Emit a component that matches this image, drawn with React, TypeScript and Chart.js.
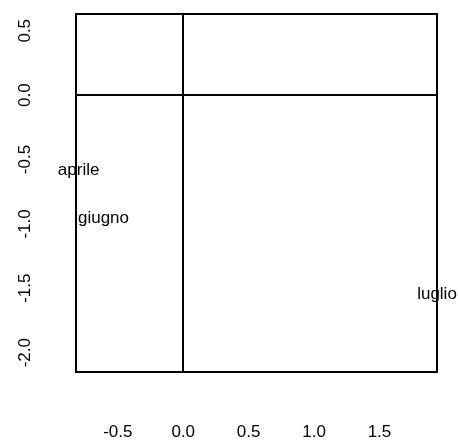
import React, { useEffect, useRef } from "react";
import { Chart, registerables } from "chart.js";

Chart.register(...registerables);

const pointLabels = ["aprile", "giugno", "luglio"];
const xValues = [-0.8, -0.61, 1.94];
const yValues = [-0.58, -0.96, -1.55];
const xTicks = [-0.5, 0.0, 0.5, 1.0, 1.5];
const yTicks = [-2.0, -1.5, -1.0, -0.5, 0.0, 0.5];

const FONT = "'Liberation Sans', Arial, Helvetica, sans-serif";

const boxPlugin = {
  id: "boxPlugin",
  afterDraw(chart: any) {
    const { ctx, chartArea } = chart;
    ctx.save();
    ctx.strokeStyle = "#000";
    ctx.lineWidth = 2;
    ctx.strokeRect(chartArea.left, chartArea.top, chartArea.right - chartArea.left, chartArea.bottom - chartArea.top);
    ctx.restore();
  },
};

const textPlugin = {
  id: "textPlugin",
  afterDatasetsDraw(chart: any) {
    const { ctx } = chart;
    const meta = chart.getDatasetMeta(0);
    ctx.save();
    ctx.fillStyle = "#000";
    ctx.font = `17px ${FONT}`;
    ctx.textAlign = "center";
    ctx.textBaseline = "middle";
    meta.data.forEach((el: any, i: number) => {
      ctx.fillText(pointLabels[i], el.x, el.y);
    });
    ctx.restore();
  },
};

export default function App() {
  const ref = useRef<HTMLCanvasElement | null>(null);
  useEffect(() => {
    if (!ref.current) return;
    const chart = new Chart(ref.current, {
      type: "scatter",
      data: {
        datasets: [
          {
            data: xValues.map((x, i) => ({ x, y: yValues[i] })),
            pointRadius: 0,
            pointHoverRadius: 0,
          },
        ],
      },
      options: {
        animation: false,
        responsive: false,
        maintainAspectRatio: false,
        events: [],
        layout: { padding: { top: 14, right: 21, left: 0, bottom: 0 } },
        plugins: { legend: { display: false }, tooltip: { enabled: false } },
        scales: {
          x: {
            type: "linear",
            min: -0.82,
            max: 1.94,
            afterBuildTicks: (s: any) => {
              s.ticks = xTicks.map((v) => ({ value: v }));
            },
            afterFit: (s: any) => {
              s.height = 69;
              s.paddingLeft = 0;
              s.paddingRight = 0;
            },
            border: { display: false },
            grid: {
              drawTicks: false,
              lineWidth: 2,
              color: (c: any) => (c.tick && c.tick.value === 0 ? "#000" : "rgba(0,0,0,0)"),
            },
            ticks: {
              color: "#000",
              font: { family: FONT, size: 17 },
              padding: 50,
              maxRotation: 0,
              callback: (v: any) => Number(v).toFixed(1),
            },
          },
          y: {
            type: "linear",
            min: -2.15,
            max: 0.63,
            afterBuildTicks: (s: any) => {
              s.ticks = yTicks.map((v) => ({ value: v }));
            },
            afterFit: (s: any) => {
              s.width = 76;
              s.paddingTop = 0;
              s.paddingBottom = 0;
            },
            border: { display: false },
            grid: {
              drawTicks: false,
              lineWidth: 2,
              color: (c: any) => (c.tick && c.tick.value === 0 ? "#000" : "rgba(0,0,0,0)"),
            },
            ticks: {
              color: "#000",
              font: { family: FONT, size: 17 },
              padding: 36,
              minRotation: 90,
              maxRotation: 90,
              crossAlign: "center",
              callback: (v: any) => Number(v).toFixed(1),
            },
          },
        },
      },
      plugins: [boxPlugin, textPlugin],
    } as any);
    return () => chart.destroy();
  }, []);
  return (
    <div style={{ position: "absolute", left: 0, top: 0, width: 458, height: 441, background: "#fff" }}>
      <canvas ref={ref} width={458} height={441} style={{ width: 458, height: 441, display: "block" }} />
    </div>
  );
}
